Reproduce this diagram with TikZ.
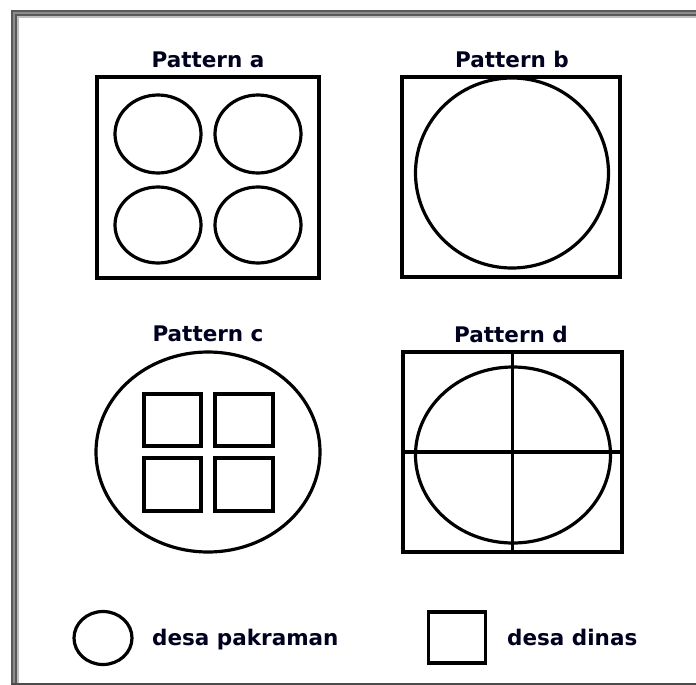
\documentclass[tikz,border=0pt]{standalone}
\usepackage{fontspec}
\setmainfont{DejaVu Sans}
\usetikzlibrary{shapes.geometric}
\tikzset{
  shp/.style={draw=black, line width=3.2pt, inner sep=0pt, outer sep=0pt},
  ell/.style={shp, ellipse},
  box/.style={shp, rectangle},
  lbl/.style={font=\bfseries\fontsize{21.5}{25}\selectfont, text=black!88!blue, inner sep=0pt, anchor=base},
  leg/.style={font=\bfseries\fontsize{21.5}{25}\selectfont, text=black!88!blue, inner sep=0pt, anchor=base west},
}
\begin{document}
\begin{tikzpicture}[x=1pt,y=-1pt]
\useasboundingbox (0,0) rectangle (696,685);
\fill[white] (0,0) rectangle (696,685);
% frame
\draw[line width=2pt, black!65] (12,700) -- (12,11) -- (710,11);
\draw[line width=2pt, black!45] (14,700) -- (14,13) -- (710,13);
\draw[line width=2pt, black!65] (16,700) -- (16,15) -- (710,15);
\draw[line width=1.5pt, black!25] (18,700) -- (18,17) -- (710,17);
\draw[line width=2pt, black!70] (11,684) -- (700,684);
% Pattern a
\node[lbl] (la) at (208,67) {Pattern a};
\node[box, minimum width=222pt, minimum height=201pt] (a) at (208,177.5) {};
\node[ell, minimum width=86pt, minimum height=78pt] (a1) at (158,134) {};
\node[ell, minimum width=86pt, minimum height=78pt] (a2) at (258,134) {};
\node[ell, minimum width=86pt, minimum height=76pt] (a3) at (158,225) {};
\node[ell, minimum width=86pt, minimum height=76pt] (a4) at (258,225) {};
% Pattern b
\node[lbl] (lb) at (512,67) {Pattern b};
\node[box, minimum width=218pt, minimum height=200pt] (b) at (511,177) {};
\node[ell, minimum width=193pt, minimum height=190pt] (b1) at (512,173) {};
% Pattern c
\node[lbl] (lc) at (208,341) {Pattern c};
\node[ell, minimum width=224pt, minimum height=200pt] (c) at (208,452) {};
\node[box, minimum width=57pt, minimum height=52pt] (c1) at (172.5,420) {};
\node[box, minimum width=58pt, minimum height=52pt] (c2) at (244,420) {};
\node[box, minimum width=57pt, minimum height=53pt] (c3) at (172.5,484.5) {};
\node[box, minimum width=58pt, minimum height=53pt] (c4) at (244,484.5) {};
% Pattern d
\node[lbl] (ld) at (511,342) {Pattern d};
\node[box, minimum width=219pt, minimum height=200pt] (d) at (512.5,452) {};
\node[ell, minimum width=195pt, minimum height=176pt] (d1) at (513,455) {};
\draw[line width=3.2pt] (d.north) -- (d.south);
\draw[line width=3.2pt] (d.west) -- (d.east);
% legend
\node[ell, minimum width=58pt, minimum height=53pt] (lcirc) at (103,638) {};
\node[leg] (tcirc) at (152,645) {desa pakraman};
\node[box, minimum width=57pt, minimum height=51pt] (lsq) at (457,637.5) {};
\node[leg] (tsq) at (507,645) {desa dinas};
\end{tikzpicture}
\end{document}
